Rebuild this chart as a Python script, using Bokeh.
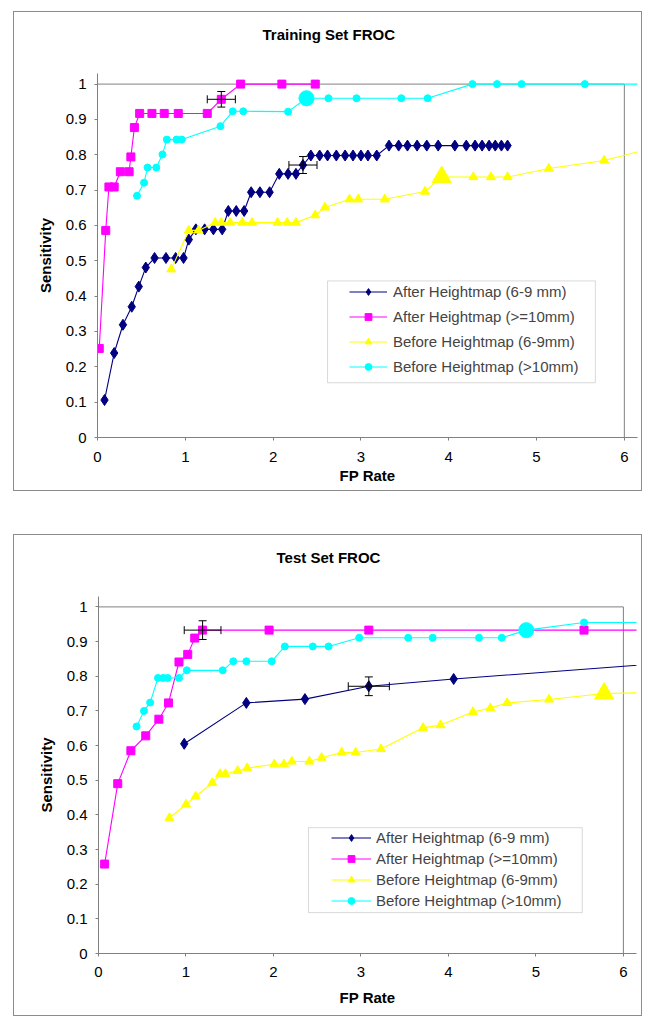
from bokeh.plotting import figure
from bokeh.models import (ColumnDataSource, Whisker, TeeHead, Legend, LegendItem, Title,
                          BoxAnnotation, FixedTicker, CustomJSTickFormatter, Spacer)
from bokeh.layouts import column, row
from bokeh.embed import file_html
from bokeh.resources import INLINE

# ---------------- data: Training set ----------------
tr_after69_x = [0.08, 0.19, 0.29, 0.39, 0.47, 0.55, 0.65, 0.78, 0.89, 0.98, 1.04, 1.12, 1.22, 1.32, 1.42,
                1.49, 1.58, 1.67, 1.75, 1.85, 1.96, 2.07, 2.17, 2.26, 2.34,
                2.43, 2.53, 2.62, 2.72, 2.82, 2.91, 3.00, 3.08, 3.18,
                3.32, 3.43, 3.53, 3.64, 3.75, 3.88, 4.07, 4.20, 4.30, 4.38, 4.46, 4.53, 4.60, 4.67]
tr_after69_y = [0.106, 0.239, 0.319, 0.370, 0.427, 0.481, 0.508, 0.508, 0.508, 0.508, 0.560, 0.589, 0.589, 0.589, 0.589,
                0.641, 0.641, 0.641, 0.694, 0.694, 0.694, 0.746, 0.746, 0.746, 0.771,
                0.798, 0.798, 0.798, 0.798, 0.798, 0.798, 0.798, 0.798, 0.798,
                0.826, 0.826, 0.826, 0.826, 0.826, 0.826, 0.826, 0.826, 0.826, 0.826, 0.826, 0.826, 0.826, 0.826]

tr_after10_x = [0.02, 0.094, 0.13, 0.19, 0.26, 0.36, 0.38, 0.42, 0.48, 0.62, 0.76, 0.92, 1.25, 1.41, 1.63, 2.10, 2.48]
tr_after10_y = [0.252, 0.586, 0.709, 0.709, 0.752, 0.752, 0.794, 0.877, 0.917, 0.917, 0.917, 0.917, 0.917, 0.957, 1.0, 1.0, 1.0]

tr_before69_x = [0.84, 1.04, 1.15, 1.34, 1.41, 1.51, 1.65, 1.76, 2.05, 2.16, 2.26, 2.48, 2.59, 2.87, 2.97, 3.27,
                 3.73, 3.92, 4.28, 4.48, 4.67, 5.14, 5.77, 6.40]
tr_before69_y = [0.476, 0.586, 0.586, 0.608, 0.608, 0.608, 0.608, 0.608, 0.608, 0.608, 0.608, 0.629, 0.651, 0.674, 0.674, 0.674,
                 0.696, 0.737, 0.737, 0.737, 0.737, 0.761, 0.784, 0.824]

tr_before10_x = [0.45, 0.53, 0.57, 0.67, 0.74, 0.79, 0.90, 0.96, 1.40, 1.54, 1.66, 2.17, 2.38, 2.63, 2.95, 3.46, 3.76,
                 4.27, 4.55, 4.83, 5.55, 6.40]
tr_before10_y = [0.684, 0.721, 0.764, 0.764, 0.801, 0.843, 0.843, 0.843, 0.881, 0.923, 0.923, 0.922, 0.960, 0.960, 0.960, 0.960, 0.960,
                 1.0, 1.0, 1.0, 1.0, 1.0]

tr_big_before69 = 17   # index of highlighted point
tr_big_before10 = 12
# error bars: (point index, half width in x, half width in y)
tr_err_after69 = (24, 0.16, 0.024)
tr_err_after10 = (13, 0.16, 0.022)

# ---------------- data: Test set ----------------
te_after69_x = [0.98, 1.69, 2.36, 3.09, 4.06, 6.50]
te_after69_y = [0.605, 0.723, 0.734, 0.771, 0.792, 0.838]

te_after10_x = [0.07, 0.22, 0.37, 0.54, 0.69, 0.80, 0.92, 1.02, 1.10, 1.19, 1.95, 3.09, 5.55, 6.50]
te_after10_y = [0.258, 0.490, 0.585, 0.628, 0.676, 0.723, 0.841, 0.863, 0.910, 0.933, 0.933, 0.933, 0.933, 0.933]

te_before69_x = [0.81, 1.00, 1.11, 1.30, 1.39, 1.45, 1.59, 1.70, 2.01, 2.12, 2.21, 2.41, 2.55, 2.78, 2.94, 3.23,
                 3.71, 3.91, 4.28, 4.48, 4.67, 5.15, 5.78, 6.50]
te_before69_y = [0.391, 0.430, 0.453, 0.492, 0.518, 0.518, 0.527, 0.535, 0.546, 0.546, 0.554, 0.554, 0.565, 0.580, 0.580, 0.590,
                 0.651, 0.659, 0.697, 0.708, 0.723, 0.733, 0.750, 0.754]

te_before10_x = [0.435, 0.52, 0.59, 0.68, 0.74, 0.79, 0.92, 1.01, 1.42, 1.54, 1.69, 1.98, 2.13, 2.45, 2.63, 2.98,
                 3.54, 3.82, 4.35, 4.61, 4.89, 5.55, 6.50]
te_before10_y = [0.655, 0.700, 0.724, 0.795, 0.795, 0.795, 0.795, 0.817, 0.817, 0.843, 0.843, 0.843, 0.886, 0.886, 0.886, 0.911,
                 0.911, 0.911, 0.911, 0.911, 0.933, 0.955, 0.955]

te_big_before69 = 22
te_big_before10 = 20
te_err_after69 = (3, 0.235, 0.027)
te_err_after10 = (9, 0.21, 0.027)

labels = ["After Heightmap (6-9 mm)", "After Heightmap (>=10mm)",
          "Before Heightmap (6-9mm)", "Before Heightmap (>10mm)"]
x_ticks = [0, 1, 2, 3, 4, 5, 6]
y_ticks = [0, 0.1, 0.2, 0.3, 0.4, 0.5, 0.6, 0.7, 0.8, 0.9, 1]
x_axis_max = 6
y_axis_max = 1

FONT = "Liberation Sans"
NAVY, MAGENTA, YELLOW, CYAN = "#000080", "#FF00FF", "#FFFF00", "#00FFFF"
GRAY = "#808080"


def make_chart(title, s69a, s10a, s69b, s10b, big69, big10, err69, err10,
               width, height, mb, title_gap, title_offset, xlab_standoff, xtick_standoff,
               legend_loc, legend_spacing, glyph_w, lab_stand, box):
    p = figure(width=width, height=height, x_range=(0, 6.15), y_range=(0, 1.03),
               output_backend="svg", toolbar_location=None,
               min_border_left=mb[0], min_border_right=mb[1],
               min_border_top=mb[2], min_border_bottom=mb[3])
    p.styles = {"border": "1px solid #8c8c8c"}
    p.outline_line_color = None
    p.xgrid.visible = False
    p.ygrid.visible = False
    p.background_fill_color = "white"
    p.title.text = ""

    # spacer title (closest to the plot area) then the real title above it
    p.add_layout(Title(text=" ", text_font_size="1px", standoff=title_gap), "above")
    p.add_layout(Title(text=title, text_font=FONT, text_font_size="15px", text_font_style="bold",
                       align="left", offset=title_offset, standoff=10, text_color="black"), "above")

    # plot-area border (top and right)
    p.segment(x0=[0, x_axis_max], y0=[y_axis_max, 0], x1=[x_axis_max, x_axis_max],
              y1=[y_axis_max, y_axis_max], line_color=GRAY, line_width=1, level="underlay")

    for ax in (p.xaxis[0], p.yaxis[0]):
        ax.axis_line_color = GRAY
        ax.major_tick_line_color = GRAY
        ax.minor_tick_line_color = None
        ax.major_tick_in = 0
        ax.major_tick_out = 3
        ax.major_label_text_font = FONT
        ax.major_label_text_font_size = "15px"
        ax.major_label_text_color = "black"
        ax.axis_label_text_font = FONT
        ax.axis_label_text_font_size = "15px"
        ax.axis_label_text_font_style = "bold"
        ax.axis_label_text_color = "black"
        ax.formatter = CustomJSTickFormatter(code="return tick.toString();")
    p.xaxis.ticker = FixedTicker(ticks=x_ticks)
    p.yaxis.ticker = FixedTicker(ticks=y_ticks)
    p.xaxis.axis_label = "FP Rate"
    p.yaxis.axis_label = "Sensitivity"
    p.xaxis.major_label_standoff = xtick_standoff
    p.yaxis.major_label_standoff = 8
    p.xaxis.axis_label_standoff = xlab_standoff
    p.yaxis.axis_label_standoff = 9

    items = []
    specs = [(s69a, NAVY, "diamond", 11),
             (s10a, MAGENTA, "square", 8),
             (s69b, YELLOW, "triangle", 9),
             (s10b, CYAN, "circle", 7)]
    for (xs, ys), color, marker, size in specs:
        l = p.line(xs, ys, line_color=color, line_width=1.1)
        s = p.scatter(xs, ys, marker=marker, size=size,
                      fill_color=color, line_color=color)
        items.append((l, s))

    # highlighted (enlarged) points
    xs, ys = s69b
    p.scatter([xs[big69]], [ys[big69]], marker="triangle", size=19, fill_color=YELLOW, line_color=YELLOW)
    xs, ys = s10b
    p.scatter([xs[big10]], [ys[big10]], marker="circle", size=15, fill_color=CYAN, line_color=CYAN)

    # error bars
    for (xs, ys), (i, hx, hy) in ((s69a, err69), (s10a, err10)):
        cx, cy = xs[i], ys[i]
        sv = ColumnDataSource(dict(base=[cx], lower=[cy - hy], upper=[cy + hy]))
        sh = ColumnDataSource(dict(base=[cy], lower=[cx - hx], upper=[cx + hx]))
        for src, dim in ((sv, "height"), (sh, "width")):
            w = Whisker(source=src, base="base", lower="lower", upper="upper", dimension=dim,
                        line_color="black", line_width=1, level="overlay",
                        upper_head=TeeHead(size=8, line_color="black", line_width=1),
                        lower_head=TeeHead(size=8, line_color="black", line_width=1))
            p.add_layout(w)

    # legend box
    p.add_layout(BoxAnnotation(left=box[0], right=box[1], bottom=box[2], top=box[3],
                               fill_color="white", fill_alpha=1.0,
                               line_color=GRAY, line_width=1))

    legend = Legend(items=[LegendItem(label=lab, renderers=[l, s]) for lab, (l, s) in zip(labels, items)],
                    location=legend_loc, orientation="vertical",
                    padding=0, margin=0, spacing=legend_spacing,
                    glyph_width=glyph_w, glyph_height=17, label_height=17,
                    label_standoff=lab_stand,
                    label_text_font=FONT, label_text_font_size="15px",
                    border_line_color=None, background_fill_alpha=0)
    p.add_layout(legend, "center")
    return p


p1 = make_chart("Training Set FROC",
                (tr_after69_x, tr_after69_y), (tr_after10_x, tr_after10_y),
                (tr_before69_x, tr_before69_y), (tr_before10_x, tr_before10_y),
                tr_big_before69, tr_big_before10, tr_err_after69, tr_err_after10,
                width=629, height=480, mb=(83, 6, 61, 55),
                title_gap=23, title_offset=165, xlab_standoff=2, xtick_standoff=11,
                legend_loc=(252, 62), legend_spacing=8, glyph_w=38, lab_stand=6,
                box=(2.62, 5.67, 0.155, 0.443))

p2 = make_chart("Test Set FROC",
                (te_after69_x, te_after69_y), (te_after10_x, te_after10_y),
                (te_before69_x, te_before69_y), (te_before10_x, te_before10_y),
                te_big_before69, te_big_before10, te_err_after69, te_err_after10,
                width=629, height=482, mb=(84, 7, 61, 64),
                title_gap=23, title_offset=178, xlab_standoff=9, xtick_standoff=10,
                legend_loc=(233, 44), legend_spacing=4, glyph_w=40, lab_stand=5,
                box=(2.40, 5.53, 0.118, 0.363))

layout = column(Spacer(height=11),
                row(Spacer(width=13), p1),
                Spacer(height=43),
                row(Spacer(width=13), p2))

open("out.html", "w").write(file_html(layout, INLINE))
